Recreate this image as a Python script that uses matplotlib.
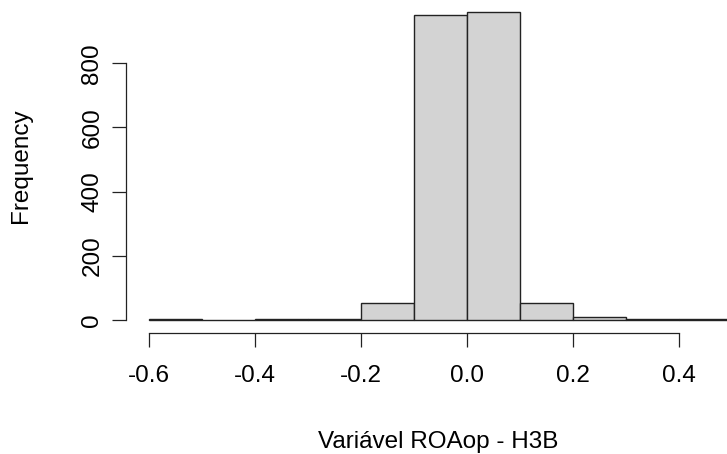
import matplotlib
matplotlib.use("Agg")
import matplotlib.pyplot as plt
import numpy as np

# Histogram of the ROAop variable (H3B), bins of width 0.1
bin_edges = [-0.6, -0.5, -0.4, -0.3, -0.2, -0.1, 0.0, 0.1, 0.2, 0.3, 0.4, 0.5]
counts = [4, 0, 3, 4, 53, 951, 959, 53, 9, 3, 3]
x_ticks = [-0.6, -0.4, -0.2, 0.0, 0.2, 0.4]
x_tick_labels = ["-0.6", "-0.4", "-0.2", "0.0", "0.2", "0.4"]
y_ticks = [0, 200, 400, 600, 800]
x_label = "Variável ROAop - H3B"
y_label = "Frequency"

plt.rcParams["font.family"] = ["Liberation Sans", "DejaVu Sans"]
FS = 17.5

W, H = 727, 454
fig = plt.figure(figsize=(W / 100, H / 100), dpi=100)

# plot region in pixel terms
left_px, bottom_px, right_px, top_px = 125.7, 333.3, 727, 0
ax = fig.add_axes([left_px / W, (H - bottom_px) / H,
                   (right_px - left_px) / W, (bottom_px - top_px) / H])

edges = np.array(bin_edges)
ax.bar(edges[:-1], counts, width=np.diff(edges), align="edge",
       color="#d3d3d3", edgecolor="#222222", linewidth=1.0)

ax.set_xlim(-0.6445, 0.49)
ax.set_ylim(-41.4, 997)

for s in ("top", "right"):
    ax.spines[s].set_visible(False)
ax.spines["left"].set_bounds(0, 800)
ax.spines["bottom"].set_bounds(-0.6, 0.4)
for s in ("left", "bottom"):
    ax.spines[s].set_linewidth(0.9)
    ax.spines[s].set_color("#222222")

ax.set_xticks(x_ticks)
ax.set_xticklabels(x_tick_labels)
ax.set_yticks(y_ticks)
ax.set_yticklabels([str(v) for v in y_ticks], rotation=90, va="center")
ax.tick_params(axis="x", length=10, width=0.9, pad=13, labelsize=FS, color="#222222")
ax.tick_params(axis="y", length=10, width=0.9, pad=6, labelsize=FS, color="#222222")

fig.text(438 / W, 1 - 448 / H, x_label, ha="center", va="baseline", fontsize=FS)
fig.text(27 / W, 1 - 166 / H, y_label, ha="center", va="baseline",
         rotation=90, rotation_mode="anchor", fontsize=FS)

fig.savefig("out.png", dpi=100)
